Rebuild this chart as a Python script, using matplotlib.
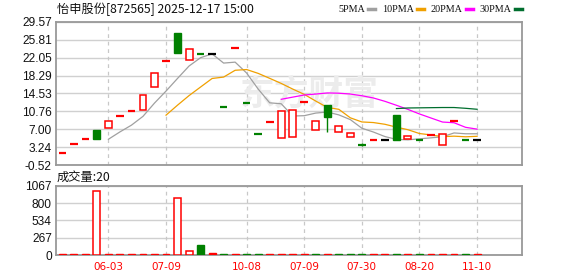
import numpy as np
import matplotlib.pyplot as plt

# daily K-line data
opens = [2.00, 3.83, 4.89, 6.78, 7.35, 9.73, 10.93, 11.14, 15.98, 21.45,
         27.19, 21.66, 22.92, 22.92, 11.77, 24.04, 12.46, 6.08, 8.47, 5.24,
         5.45, 12.82, 6.93, 12.04, 6.51, 5.31, 3.77, 4.82, 4.82, 9.94,
         5.03, 4.82, 5.87, 3.77, 8.82, 4.82, 4.82]
closes = [2.00, 3.83, 4.89, 4.95, 8.82, 9.73, 10.93, 14.15, 18.92, 21.45,
          23.05, 23.97, 22.92, 22.92, 11.77, 24.04, 12.46, 6.08, 8.47, 10.78,
          11.14, 12.82, 8.82, 9.58, 7.77, 6.15, 3.77, 4.82, 4.82, 4.80,
          5.67, 4.82, 5.87, 5.94, 8.82, 4.82, 4.82]
highs = [max(o, c) for o, c in zip(opens, closes)]
lows = [min(o, c) for o, c in zip(opens, closes)]
highs[26] = 4.05
lows[26] = 3.50
lows[23] = 6.42

volumes = [12, 12, 12, 984, 12, 12, 12, 12, 12, 12,
           875, 67, 161, 25, 12, 12, 12, 12, 12, 12,
           12, 12, 12, 12, 12, 12, 12, 12, 12, 12,
           12, 12, 12, 12, 12, 12, 20]

date_pos = [4, 9, 16, 21, 26, 31, 36]
date_labels = ['06-03', '07-09', '10-08', '07-09', '07-30', '08-20', '11-10']

price_ticks = [-0.52, 3.24, 7.00, 10.76, 14.53, 18.29, 22.05, 25.81, 29.57]
vol_ticks = [0, 267, 534, 800, 1067]

ma_names = ['5PMA', '10PMA', '20PMA', '30PMA']
ma_periods = [5, 10, 20, 30]
ma_colors = ['#a0a0a0', '#f0a000', '#ff00ff', '#006e2e']

RED = '#ff0000'
GREEN = '#008000'
GRID = '#d0d0d0'
FRAME = '#999999'

W, H = 578, 276


def fx(px):
    return px / W


def fy(py):
    return 1 - py / H


def style_axes(ax, ymin, ymax, ticks, labels):
    ax.set_xlim(-0.55, 39.9)
    ax.set_ylim(ymin, ymax)
    ax.set_yticks(ticks)
    ax.set_yticklabels(labels, fontsize=8.6, family='Liberation Sans', color='#111111')
    ax.set_xticks([])
    ax.tick_params(axis='y', length=0, pad=3)
    for t in ticks:
        ax.axhline(t, color=GRID, lw=1.0, zorder=0)
    for p in date_pos:
        ax.axvline(p, color='#c8c8c8', lw=0.9, ls=(0, (3, 3)), zorder=0)
    for s in ax.spines.values():
        s.set_color(FRAME)
        s.set_linewidth(1.3)


fig = plt.figure(figsize=(W / 100, H / 100), dpi=100)
ax = fig.add_axes([fx(56), fy(165), fx(522) - fx(56), fy(22) - fy(165)])
axv = fig.add_axes([fx(56), fy(255), fx(522) - fx(56), fy(186) - fy(255)])

style_axes(ax, -0.52, 29.57, price_ticks, ['%.2f' % t for t in price_ticks])
style_axes(axv, 0, 1067, vol_ticks, [str(t) for t in vol_ticks])

# watermark
ax.text(fx(309), fy(94), '东方财富', transform=fig.transFigure, ha='center', va='center',
        fontsize=25, color='#ececec', family='Noto Sans CJK SC', fontweight='bold', zorder=0)

x = np.arange(len(closes))

# candles
for i in x:
    o, c = opens[i], closes[i]
    prev = closes[i - 1] if i > 0 else c - 1
    if highs[i] > max(o, c) or lows[i] < min(o, c):
        col = RED if c > o else GREEN
        if c == o:
            col = RED if c > prev else (GREEN if c < prev else 'black')
        ax.vlines(i, lows[i], highs[i], color=col, lw=1.0, zorder=3)
    if c > o:
        ax.bar(i, c - o, bottom=o, width=0.6, facecolor='white', edgecolor=RED, lw=1.1, zorder=4)
    elif c < o:
        ax.bar(i, o - c, bottom=c, width=0.6, facecolor=GREEN, edgecolor=GREEN, lw=1.0, zorder=4)
    else:
        col = RED if c > prev else (GREEN if c < prev else 'black')
        ax.hlines(c, i - 0.33, i + 0.33, color=col, lw=1.6, zorder=4)

# moving averages
cl = np.array(closes)
for n, col in zip(ma_periods, ma_colors):
    ma = np.convolve(cl, np.ones(n) / n, mode='valid')
    ax.plot(x[n - 1:], ma, color=col, lw=0.9, zorder=2)

# volume
for i in x:
    prev = closes[i - 1] if i > 0 else closes[i] - 1
    col = GREEN if closes[i] < prev else RED
    if col == RED and volumes[i] > 40:
        axv.bar(i, volumes[i], width=0.6, facecolor='white', edgecolor=RED, lw=1.1, zorder=3)
    else:
        axv.bar(i, volumes[i], width=0.6, facecolor=col, edgecolor=col, lw=1.0, zorder=3)

for p, lab in zip(date_pos, date_labels):
    axv.text(p, -0.17, lab, transform=axv.get_xaxis_transform(), ha='center', va='center',
             fontsize=7.5, color=RED)

# header texts
fig.text(fx(57), fy(9), '怡申股份[872565] 2025-12-17 15:00', fontsize=8.8, va='center',
         family=['Noto Sans CJK SC', 'DejaVu Sans'], color='#111111')
fig.text(fx(57), fy(177), '成交量:20', fontsize=8.8, va='center',
         family=['Noto Sans CJK SC', 'DejaVu Sans'], color='#111111')

# legend: label followed by a short coloured dash
fig.canvas.draw()
renderer = fig.canvas.get_renderer()
cur = 338
for lab, col in zip(ma_names, ma_colors):
    t = fig.text(fx(cur), fy(9), lab, fontsize=7.3, va='center', family='Liberation Serif',
                 color='#111111')
    w = t.get_window_extent(renderer).width
    lx = cur + w + 3
    fig.add_artist(plt.Line2D([fx(lx), fx(lx + 7)], [fy(9), fy(9)], color=col, lw=2.5,
                              transform=fig.transFigure))
    cur = lx + 14

fig.savefig('out.png', dpi=100)
